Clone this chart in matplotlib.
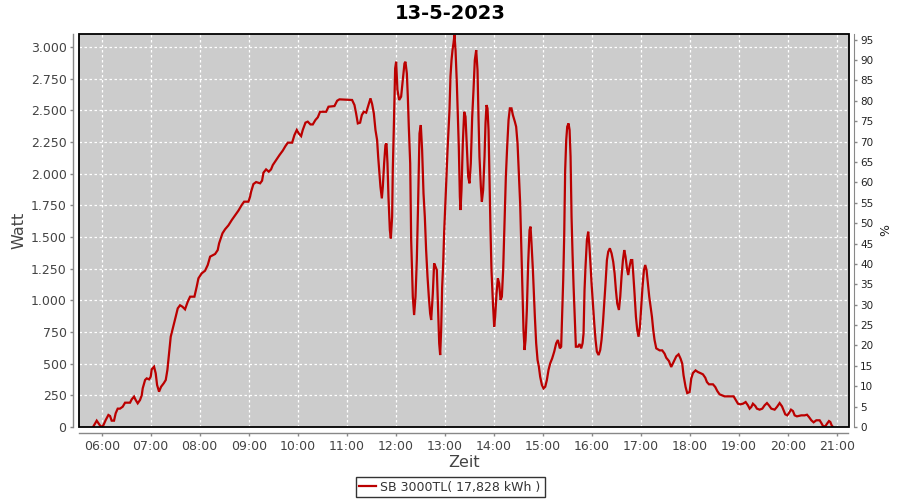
import matplotlib
matplotlib.use("Agg")
import matplotlib.pyplot as plt
from matplotlib.ticker import FuncFormatter, FixedLocator
from matplotlib.patches import Rectangle

title = "13-5-2023"
series_name = "SB 3000TL( 17,828 kWh )"

# time in minutes after midnight
minutes = [
    349.4, 353.9, 356.7, 359.2, 362.0, 364.9, 368.2, 370.2, 372.2, 375.1,
    377.1, 379.6, 382.4, 385.7, 388.6, 394.7, 396.7, 399.6, 401.6, 404.1,
    406.9, 409.0, 410.2, 413.1, 415.1, 418.0, 420.0, 421.2, 424.1, 426.1,
    427.8, 430.2, 432.7, 435.9, 438.4, 440.4, 442.4, 444.5, 446.5, 448.6,
    450.6, 453.1, 455.9, 458.8, 462.0, 465.3, 468.2, 473.5, 476.3, 478.4,
    482.4, 486.5, 489.8, 492.7, 498.8, 502.0, 503.7, 507.8, 511.0, 515.1,
    519.2, 523.3, 527.3, 531.4, 534.3, 539.6, 541.6,
    542.9, 545.7, 549.0, 553.9, 556.3, 558.0, 561.2, 564.5, 567.3, 569.4,
    573.5, 577.6, 581.6, 584.9, 587.8, 593.1, 595.9, 598.8, 601.2, 604.1,
    606.1, 609.4, 612.2, 615.5, 618.4, 621.6, 624.5, 627.3, 634.7, 637.6,
    644.9, 648.2, 651.0, 666.5, 669.4, 671.4, 673.5, 676.3, 678.4, 680.8,
    683.7, 686.5, 689.0, 691.0, 693.1, 695.1, 697.1, 698.4, 700.0, 701.2,
    702.9, 704.1, 705.7, 707.3, 708.6, 709.8, 711.0, 712.7, 713.9, 715.5,
    716.3, 717.6, 719.2, 720.4, 722.0, 724.1,
    726.5, 728.6, 730.6, 731.8, 733.5, 734.7, 735.9, 737.6, 738.8, 740.0,
    740.8, 742.4, 744.1, 745.7, 747.3, 749.0, 750.6, 752.2, 753.9, 755.5,
    757.1, 758.8, 760.4, 762.0, 763.3, 765.3, 766.9, 768.6, 770.2, 771.8,
    773.1, 774.3, 775.5, 776.7, 778.0, 779.2, 780.8, 782.0, 783.3, 784.5,
    785.7, 786.9, 788.2, 789.4, 790.6, 791.8, 793.1, 794.7, 795.9, 797.1,
    798.4, 799.2, 800.4, 802.0, 803.7, 805.3, 806.9, 808.6, 810.2, 811.8,
    813.5, 815.1, 816.7, 818.4, 820.0, 821.2, 822.4, 824.1, 825.3, 826.9,
    828.6, 829.8, 831.0, 832.2, 833.5, 834.7, 835.9, 837.1, 838.8, 840.4,
    841.6, 843.3, 844.9, 846.5, 848.2, 849.8, 851.4, 853.1, 854.7, 856.3,
    858.0, 859.6, 861.6, 863.3, 865.7, 867.3, 869.0, 870.6, 872.2, 873.9,
    875.1, 876.3, 877.6, 878.8, 880.4, 882.0, 883.7, 884.9, 886.1, 887.8,
    889.0, 890.2, 891.8, 893.5, 895.1, 896.7, 898.8, 900.8, 902.9, 904.9,
    906.9, 909.0, 911.4, 913.9, 916.3, 918.4,
    920.8, 922.4, 923.7, 924.9, 926.1, 927.3, 928.6, 929.8, 931.4, 932.7,
    933.9, 935.1, 936.3, 937.6, 939.2, 940.4, 942.9, 944.9, 946.9, 948.6,
    949.8, 951.0, 952.2, 953.9, 955.5, 956.7, 958.0, 959.6, 961.2, 962.9,
    964.5, 966.1, 968.2, 970.2, 971.8, 973.5, 975.1, 976.7, 978.4, 980.0,
    982.0, 984.1, 986.1, 987.8, 989.4, 991.0, 993.1, 994.7, 996.3, 998.0,
    999.6, 1001.2, 1002.9, 1004.5, 1006.1, 1007.8, 1009.4, 1010.6, 1012.2, 1013.9,
    1015.5, 1017.1, 1018.8, 1020.4, 1022.0, 1023.7, 1025.3, 1026.9, 1028.6, 1030.2,
    1031.8, 1033.5, 1035.1, 1036.7, 1038.8,
    1042.9, 1046.1, 1049.0, 1051.0, 1054.3, 1057.1, 1060.0, 1063.3, 1066.1, 1068.6,
    1070.6, 1072.2, 1074.7, 1076.7, 1079.6, 1081.6, 1083.7, 1086.9, 1089.8, 1092.7,
    1095.9, 1098.8, 1100.8, 1103.3, 1108.2, 1111.0, 1113.5, 1116.3, 1122.4, 1128.6,
    1133.5, 1135.9, 1138.8, 1141.6, 1144.9, 1148.2, 1151.0, 1153.1, 1155.1, 1157.1,
    1160.0, 1162.0, 1165.3, 1168.6, 1171.4, 1174.3, 1176.7, 1179.6, 1183.7, 1186.5,
    1189.8, 1192.7, 1194.7, 1196.7, 1199.2, 1201.2, 1203.7, 1206.1, 1208.2, 1211.0,
    1216.3, 1220.4, 1223.3, 1225.7, 1228.6, 1231.4, 1234.7, 1238.8, 1240.8, 1242.9,
    1245.7, 1247.8, 1250.2, 1251.8, 1253.5, 1255.1,
]

watt = [
    0, 50, 24, 0, 13, 55, 95, 87, 50, 50,
    108, 145, 145, 160, 192, 192, 218, 240, 213, 187,
    213, 250, 305, 371, 384, 376, 397, 455, 476, 424,
    332, 279, 318, 345, 371, 450, 582, 713, 766, 818,
    871, 937, 961, 950, 929, 989, 1029, 1029, 1108, 1174,
    1213, 1234, 1279, 1345, 1366, 1397, 1450, 1529, 1561, 1592,
    1634, 1671, 1708, 1753, 1779, 1779, 1818,
    1858, 1918, 1934, 1924, 1945, 2008, 2034, 2016, 2034, 2068,
    2108, 2147, 2182, 2218, 2245, 2245, 2305, 2345, 2318, 2297,
    2345, 2403, 2411, 2389, 2389, 2424, 2445, 2489, 2489, 2529,
    2534, 2576, 2587, 2582, 2542, 2476, 2397, 2403, 2463, 2489,
    2482, 2542, 2595, 2550, 2476, 2345, 2266, 2134, 2003, 1897,
    1805, 1897, 2082, 2226, 2239, 2082, 1818, 1555, 1489, 1661,
    2029, 2371, 2832, 2884, 2661, 2582,
    2608, 2739, 2871, 2884, 2792, 2608, 2371, 2082, 1476, 1213,
    1029, 884, 1029, 1318, 1766, 2318, 2384, 2187, 1845, 1661,
    1397, 1187, 1029, 897, 845, 1055, 1292, 1266, 1239, 924,
    661, 568, 766, 1100, 1292, 1542, 1779, 1976, 2187, 2345,
    2503, 2766, 2897, 2976, 3030, 3095, 2976, 2713, 2476, 2213,
    1818, 1713, 1871, 2239, 2489, 2450, 2213, 1976, 1924, 2082,
    2450, 2661, 2897, 2976, 2818, 2450, 2134, 1897, 1779, 1871,
    2134, 2397, 2542, 2516, 2345, 1950, 1555, 1239, 989, 792,
    871, 1055, 1174, 1134, 1003, 1029, 1239, 1608, 1976, 2213,
    2424, 2516, 2516, 2463, 2411, 2371, 2239, 2003, 1766, 1345,
    1055, 766, 608, 687, 924, 1292, 1555, 1582, 1450, 1239,
    1055, 871, 661, 529, 476, 397, 332, 305, 318, 371,
    450, 503, 542, 595, 661, 687,
    621, 634, 897, 1161, 1503, 2029, 2266, 2371, 2397, 2345,
    2134, 1661, 1371, 1108, 845, 634, 634, 655, 621, 661,
    739, 1082, 1266, 1476, 1542, 1450, 1318, 1134, 976, 818,
    687, 595, 568, 608, 687, 818, 976, 1134, 1318, 1384,
    1411, 1371, 1305, 1213, 1082, 976, 924, 1029, 1187, 1318,
    1397, 1345, 1253, 1200, 1266, 1318, 1318, 1213, 1055, 871,
    766, 713, 792, 950, 1108, 1239, 1279, 1239, 1134, 1029,
    950, 871, 766, 687, 621,
    605, 605, 579, 547, 521, 474, 513, 558, 574, 539,
    500, 408, 316, 268, 276, 382, 426, 447, 434, 426,
    416, 389, 355, 337, 337, 316, 284, 258, 242, 242,
    242, 216, 184, 179, 184, 197, 171, 145, 158, 184,
    166, 145, 137, 145, 171, 189, 171, 145, 137, 158,
    189, 163, 132, 100, 92, 110, 137, 126, 92, 84,
    92, 92, 97, 79, 53, 37, 53, 53, 32, 8,
    5, 26, 47, 40, 13, 0,
]

hour_ticks = list(range(6, 22))
hour_labels = [f"{h:02d}:00" for h in hour_ticks]
watt_ticks = list(range(0, 3001, 250))
pct_ticks = list(range(0, 96, 5))

fig = plt.figure(figsize=(9, 5), dpi=100)
ax = fig.add_axes([79 / 900, 1 - 427 / 500, (848.5 - 79) / 900, (427 - 34) / 500])
ax.set_facecolor("#cccccc")

hours = [m / 60.0 for m in minutes]
line, = ax.plot(hours, watt, color="#bb0000", lw=1.6, solid_joinstyle="miter")

ax.set_xlim(5.537, 21.235)
ax.set_ylim(0, 3103)
ax.xaxis.set_major_locator(FixedLocator(hour_ticks))
ax.set_xticklabels(hour_labels)
ax.yaxis.set_major_locator(FixedLocator(watt_ticks))
ax.yaxis.set_major_formatter(FuncFormatter(lambda v, p: f"{int(v):,}".replace(",", ".")))

ax.grid(True, color="white", linestyle=(0, (2, 2)), linewidth=0.9)
ax.set_axisbelow(True)

for s in ["top", "right"]:
    ax.spines[s].set_visible(False)
for s in ["left", "bottom"]:
    ax.spines[s].set_position(("outward", 4))
    ax.spines[s].set_color("#888888")
    ax.spines[s].set_linewidth(1.0)
ax.add_patch(Rectangle((0, 0), 1, 1, transform=ax.transAxes, fill=False,
                       edgecolor="black", linewidth=1.3, clip_on=False, zorder=5))

ax.tick_params(axis="both", colors="#888888", labelcolor="#444444",
               labelsize=9, length=2.5, width=1, pad=2.5)

ax.set_xlabel("Zeit", fontsize=11.5, color="#444444", labelpad=2)
ax.set_ylabel("Watt", fontsize=11.5, color="#444444", labelpad=3)

ax2 = ax.twinx()
ax2.set_ylim(0, 96.4)
ax2.yaxis.set_major_locator(FixedLocator(pct_ticks))
for s in ["top", "left", "bottom"]:
    ax2.spines[s].set_visible(False)
ax2.spines["right"].set_position(("outward", 4))
ax2.spines["right"].set_color("#888888")
ax2.tick_params(axis="y", colors="#888888", labelcolor="#222222",
                labelsize=7.5, length=2.5, width=1, pad=2)
ax2.set_ylabel("%", fontsize=9, color="#222222", labelpad=4)

fig.suptitle(title, x=450 / 900, y=1 - 4 / 500, va="top", fontsize=14,
             fontweight="bold", color="black")

leg = fig.legend([line], [series_name], loc="center", bbox_to_anchor=(450 / 900, 1 - 487 / 500),
                 fontsize=9, frameon=True, fancybox=False, edgecolor="black",
                 handlelength=1.3, handletextpad=0.4, borderpad=0.3, borderaxespad=0)
leg.get_frame().set_linewidth(1.0)
for t in leg.get_texts():
    t.set_color("#333333")

fig.savefig("out.png", dpi=100, facecolor="white")
